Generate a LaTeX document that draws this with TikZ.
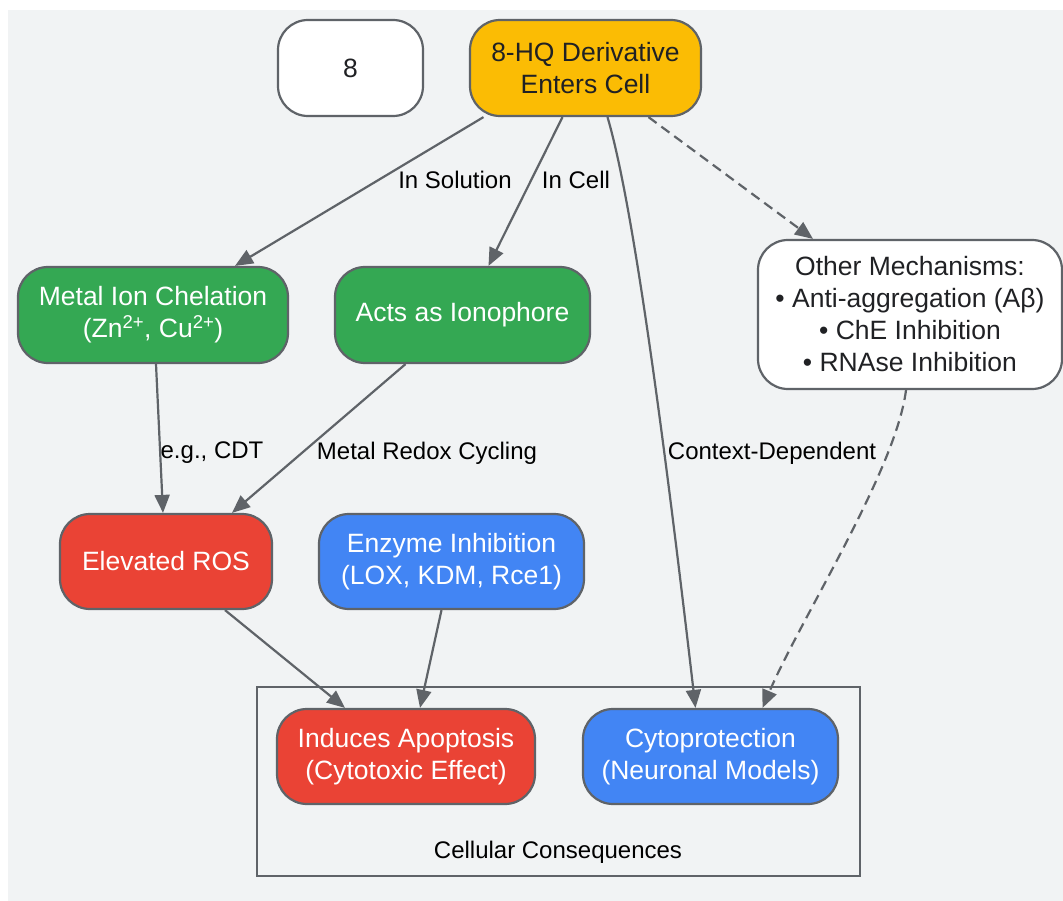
\documentclass[tikz,border=0pt]{standalone}
\usepackage{fontspec}
\setmainfont{Liberation Sans}
\usetikzlibrary{arrows.meta}
\definecolor{bg}{HTML}{F1F3F4}
\definecolor{edgegray}{HTML}{5F6368}
\definecolor{gGreen}{HTML}{34A853}
\definecolor{gRed}{HTML}{EA4335}
\definecolor{gBlue}{HTML}{4285F4}
\definecolor{gYellow}{HTML}{FBBC04}
\definecolor{darktext}{HTML}{202124}
\tikzset{
  box/.style={draw=edgegray, line width=2.2pt, rounded corners=30pt, align=center,
    inner sep=0pt, font=\fontsize{26.5}{32}\selectfont},
  whitebox/.style={box, fill=white, text=darktext},
  yellowbox/.style={box, fill=gYellow, text=darktext},
  greenbox/.style={box, fill=gGreen, text=white},
  redbox/.style={box, fill=gRed, text=white},
  bluebox/.style={box, fill=gBlue, text=white},
  lbl/.style={inner sep=0pt, text=black, font=\fontsize{24}{28}\selectfont},
  arr/.style={draw=edgegray, line width=2.2pt, -{Triangle[length=18pt,width=15pt]}},
  dasharr/.style={arr, dash pattern=on 10pt off 6pt},
}
\begin{document}
\begin{tikzpicture}[x=1pt,y=-1pt]
\useasboundingbox (0,0) rectangle (1063,901);
\fill[bg] (8,10) rectangle (1063,901);

% cluster
\node[draw=edgegray, line width=2.2pt, minimum width=603pt, minimum height=189pt, inner sep=0pt] (cluster) at (558.5,781.5) {};
\node[lbl] (clusterlbl) at (558,852) {Cellular Consequences};

% nodes
\node[whitebox, minimum width=145pt, minimum height=96pt] (eight) at (350.5,68) {8};
\node[yellowbox, minimum width=231pt, minimum height=96pt] (enter) at (585.5,68) {8-HQ Derivative\\Enters Cell};
\node[greenbox, minimum width=270pt, minimum height=96pt] (metal) at (153,315) {Metal Ion Chelation\\(Zn\textsuperscript{2+}, Cu\textsuperscript{2+})};
\node[greenbox, minimum width=255pt, minimum height=96pt] (iono) at (462.5,315) {Acts as Ionophore};
\node[whitebox, minimum width=304pt, minimum height=149pt] (other) at (910,314.5) {Other Mechanisms:\\• Anti-aggregation (Aβ)\\• ChE Inhibition\\• RNAse Inhibition};
\node[redbox, minimum width=212pt, minimum height=95pt] (ros) at (166,561.5) {Elevated ROS};
\node[bluebox, minimum width=265pt, minimum height=95pt] (enz) at (451.5,561.5) {Enzyme Inhibition\\(LOX, KDM, Rce1)};
\node[redbox, minimum width=258pt, minimum height=95pt] (apop) at (406,756.5) {Induces Apoptosis\\(Cytotoxic Effect)};
\node[bluebox, minimum width=255pt, minimum height=95pt] (cyto) at (710.5,756.5) {Cytoprotection\\(Neuronal Models)};

% edges
\draw[arr] ([xshift=-102pt]enter.south) -- ([xshift=82pt]metal.north);
\draw[arr] ([xshift=-23pt]enter.south) -- ([xshift=26pt]iono.north);
\draw[arr] ([xshift=22pt]enter.south) .. controls (632,200) and (662,420) .. ([xshift=-15pt]cyto.north);
\draw[dasharr] ([xshift=63pt]enter.south) -- ([xshift=-97pt]other.north);
\draw[arr] ([xshift=3pt]metal.south) -- ([xshift=-3pt]ros.north);
\draw[arr] ([xshift=-57pt]iono.south) -- ([xshift=66pt]ros.north);
\draw[dasharr] ([xshift=-4pt]other.south) .. controls (896,470) and (800,620) .. ([xshift=52pt]cyto.north);
\draw[arr] ([xshift=59pt]ros.south) -- ([xshift=-61pt]apop.north);
\draw[arr] ([xshift=-10pt]enz.south) -- ([xshift=14pt]apop.north);

% edge labels
\node[lbl] (l1) at (455,180) {In Solution};
\node[lbl] (l2) at (576,180) {In Cell};
\node[lbl] (l3) at (772,453) {Context-Dependent};
\node[lbl] (l4) at (212,453) {e.g., CDT};
\node[lbl] (l5) at (427,453) {Metal Redox Cycling};
\end{tikzpicture}
\end{document}
